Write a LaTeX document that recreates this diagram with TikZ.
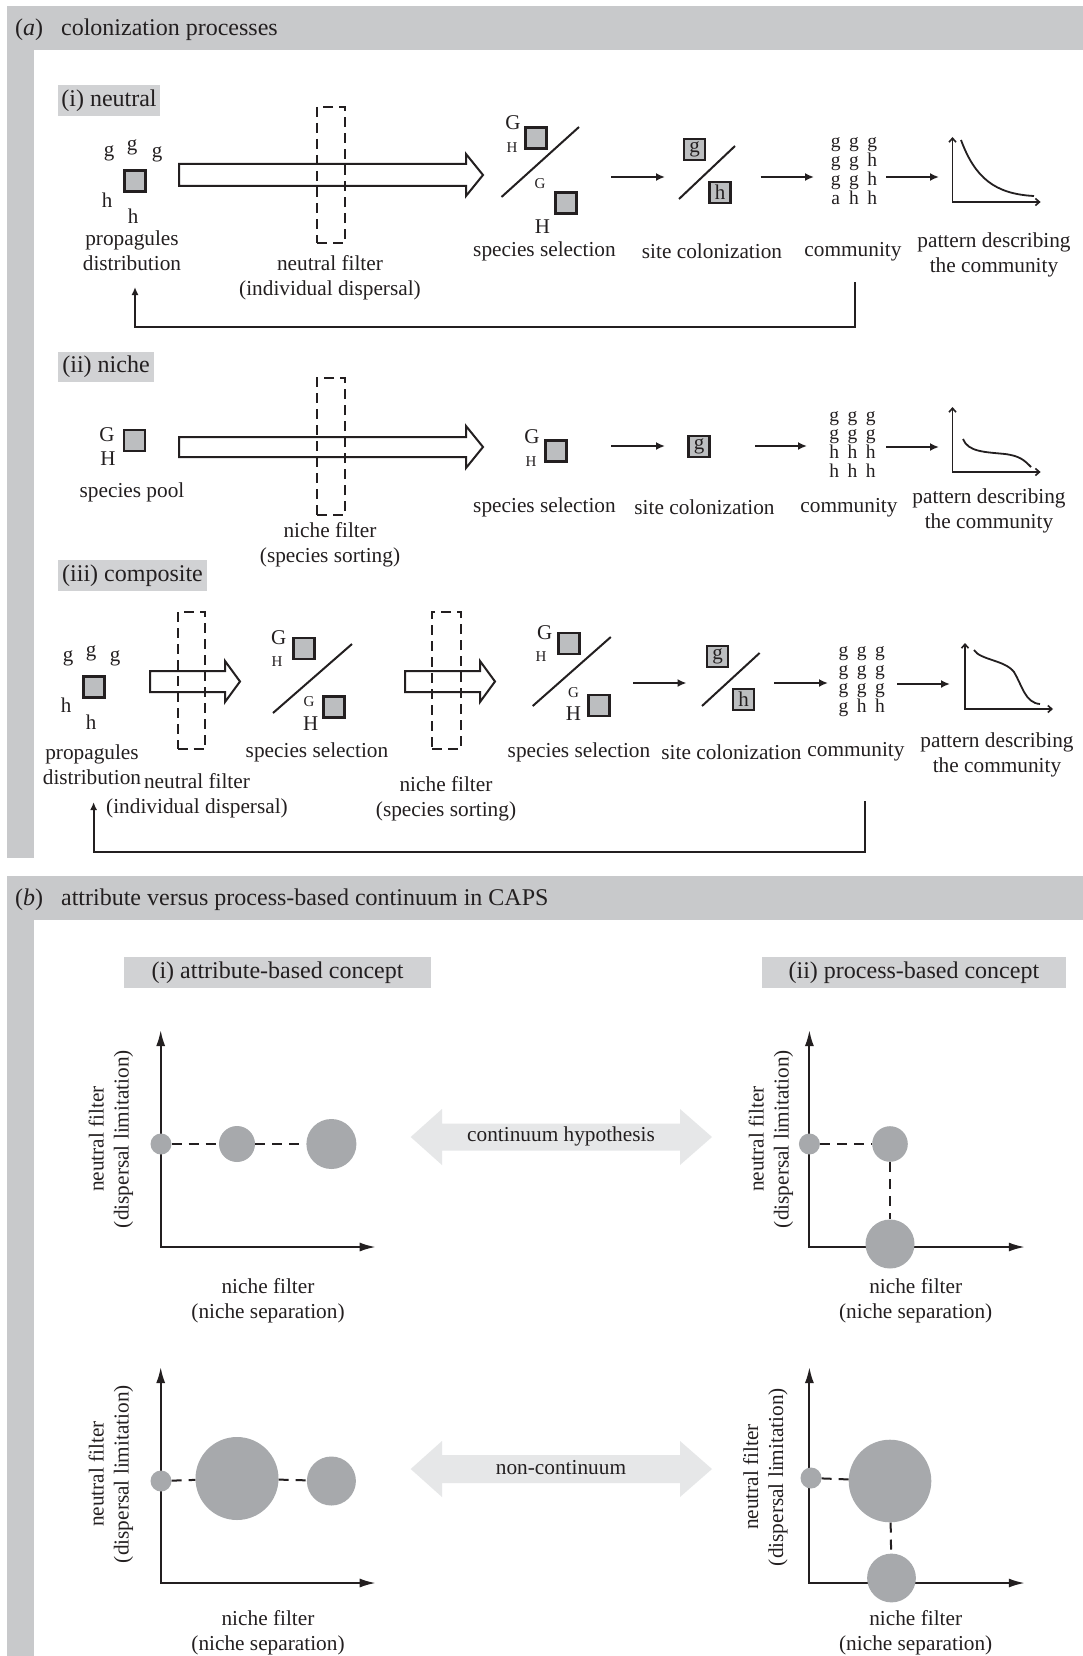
\documentclass[tikz,border=0pt]{standalone}
\usepackage{fontspec}
\setmainfont{Liberation Serif}
\usetikzlibrary{arrows.meta}
\definecolor{hdr}{RGB}{200,201,203}
\definecolor{lbl}{RGB}{209,210,212}
\definecolor{sqfill}{RGB}{188,190,192}
\definecolor{dotc}{RGB}{167,169,172}
\definecolor{arrc}{RGB}{230,231,232}
\definecolor{ink}{RGB}{35,31,32}
\begin{document}
\begin{tikzpicture}[x=1pt,y=-1pt,
  lab/.style={font=\fontsize{21.3}{25}\selectfont, align=center, inner sep=0pt, text=ink},
  hd/.style={font=\fontsize{24}{28}\selectfont, inner sep=0pt, text=ink},
  lbox/.style={hd, fill=lbl},
  big/.style={font=\fontsize{21}{24}\selectfont, inner sep=0pt, text=ink},
  sml/.style={font=\fontsize{15}{18}\selectfont, inner sep=0pt, text=ink},
  sq/.style={draw=ink, fill=sqfill, line width=2.2pt, minimum size=21pt, inner sep=0pt, text=ink},
  comm/.style={font=\fontsize{19.5}{18.3}\selectfont, inner sep=0pt, text=ink},
  conn/.style={draw=ink, line width=2pt, -{Latex[length=9pt,width=8pt]}},
  fb/.style={draw=ink, line width=2pt, -{Latex[length=8pt,width=7pt]}},
  filt/.style={draw=ink, line width=2pt, dash pattern=on 10pt off 6pt, inner sep=0pt},
  hollow/.style={draw=ink, fill=white, line width=2pt, line join=miter},
  slash/.style={draw=ink, line width=2pt},
  mx/.style={draw=ink, line width=1.6pt, {Straight Barb[length=4pt,width=7pt]}-{Straight Barb[length=4pt,width=7pt]}},
  curve/.style={draw=ink, line width=1.8pt},
  bub/.style={circle, fill=dotc, inner sep=0pt},
  dl/.style={draw=ink, line width=2pt, dash pattern=on 10pt off 7pt},
  ax/.style={draw=ink, line width=2pt, line join=miter, {Latex[length=16pt,width=9pt]}-{Latex[length=16pt,width=9pt]}}
]
\useasboundingbox (0,0) rectangle (1083,1656);
\fill[white] (0,0) rectangle (1083,1656);

% ================= panel (a) frame
\fill[hdr] (7,6) rectangle (1083,50);
\fill[hdr] (7,50) rectangle (34,858);
\node[hd, anchor=west] (ha) at (15,30) {(\textit{a})\hspace{18pt}colonization processes};

% ---------- (i) neutral
\node[lbox, minimum width=102pt, minimum height=31pt] (ti) at (109,100.5) {(i) neutral};
\node[big] (g1a) at (109,153) {g};
\node[big] (g1b) at (132,147) {g};
\node[big] (g1c) at (157,154) {g};
\node[sq] (sq1) at (135,181) {};
\node[big] (h1a) at (107,200) {h};
\node[big] (h1b) at (133,216) {h};
\node[lab] (prop1) at (132,250.5) {propagules\\distribution};

\draw[hollow] (179,164) -- (466,164) -- (466,154) -- (483,175) -- (466,196) -- (466,186) -- (179,186) -- cycle;
\node[filt, minimum width=28pt, minimum height=136pt] (fil1) at (331,175) {};
\node[lab] (nf1) at (330,277.5) {neutral filter\\(individual dispersal)};

\node[big] (ss1G) at (513,123) {G};
\node[sml] (ss1H) at (512,148) {H};
\node[sq] (ss1a) at (536,138) {};
\draw[slash] (501.5,197) -- (579,127);
\node[sml] (ss1g) at (540,184) {G};
\node[sq] (ss1b) at (566,203) {};
\node[big] (ss1H2) at (542.5,227) {H};
\node[lab] (ss1l) at (544.5,251) {species selection};

\coordinate (a11s) at (611,177); \coordinate (a11e) at (665,177);
\draw[conn] (a11s) -- (a11e);

\node[sq, big] (sc1g) at (694.5,149.5) {g};
\draw[slash] (679,199) -- (735,146);
\node[sq, big] (sc1h) at (720,192.5) {h};
\node[lab] (sc1l) at (712,251) {site colonization};

\coordinate (a12s) at (760.6,177); \coordinate (a12e) at (814,177);
\draw[conn] (a12s) -- (a12e);

\node[comm] (cm1) at (854,172) {\begin{tabular}{@{}c@{\hspace{8.5pt}}c@{\hspace{8.5pt}}c@{}}g&g&g\\g&g&h\\g&g&h\\a&h&h\end{tabular}};
\node[lab] (cm1l) at (853,252) {community};

\coordinate (a13s) at (886,177); \coordinate (a13e) at (939,177);
\draw[conn] (a13s) -- (a13e);

\draw[mx] (952.5,137) -- (952.5,202) -- (1040.6,202);
\draw[curve] (961,140) .. controls (975,178) and (995,194) .. (1034,196);
\node[lab] (pt1) at (994,254.5) {pattern describing\\the community};

\coordinate (fb1s) at (855,282); \coordinate (fb1c) at (855,327); \coordinate (fb1e) at (135,287);
\draw[fb] (fb1s) -- (fb1c) -| (fb1e);

% ---------- (ii) niche
\node[lbox, minimum width=96pt, minimum height=30pt] (tii) at (106,367) {(ii) niche};
\node[big] (sp2G) at (107,435) {G};
\node[big] (sp2H) at (108,459) {H};
\node[sq] (sq2) at (134.5,440.5) {};
\node[lab] (sp2l) at (132,492) {species pool};

\draw[hollow] (179,437) -- (466,437) -- (466,426) -- (483,447) -- (466,468) -- (466,457) -- (179,457) -- cycle;
\node[filt, minimum width=28pt, minimum height=137pt] (fil2) at (331,446.5) {};
\node[lab] (nf2) at (330,545) {niche filter\\(species sorting)};

\node[big] (ss2G) at (532,437) {G};
\node[sml] (ss2H) at (531,462) {H};
\node[sq] (ss2a) at (556,451) {};
\node[lab] (ss2l) at (544.5,507) {species selection};

\coordinate (a21s) at (611,446); \coordinate (a21e) at (665,446);
\draw[conn] (a21s) -- (a21e);

\node[sq, big] (sc2g) at (699,446.5) {g};
\node[lab] (sc2l) at (704.5,507) {site colonization};

\coordinate (a22s) at (755,446); \coordinate (a22e) at (807,446);
\draw[conn] (a22s) -- (a22e);

\node[comm] (cm2) at (852.5,446) {\begin{tabular}{@{}c@{\hspace{8.5pt}}c@{\hspace{8.5pt}}c@{}}g&g&g\\g&g&g\\h&h&h\\h&h&h\end{tabular}};
\node[lab] (cm2l) at (849,508) {community};

\coordinate (a23s) at (886,447); \coordinate (a23e) at (939,447);
\draw[conn] (a23s) -- (a23e);

\draw[mx] (952.5,407) -- (952.5,472) -- (1040.6,472);
\draw[curve] (963,439) .. controls (968,452) and (985,452) .. (1005,454) .. controls (1020,456) and (1024,460) .. (1031,467);
\node[lab] (pt2) at (989,510.5) {pattern describing\\the community};

% ---------- (iii) composite
\node[lbox, minimum width=149pt, minimum height=31pt] (tiii) at (132.5,575.5) {(iii) composite};
\node[big] (g3a) at (68,658) {g};
\node[big] (g3b) at (91,653) {g};
\node[big] (g3c) at (115,658) {g};
\node[sq] (sq3) at (94,687) {};
\node[big] (h3a) at (66,705) {h};
\node[big] (h3b) at (91,722) {h};
\node[lab] (prop3) at (92,764.5) {propagules\\distribution};

\draw[hollow] (150,671) -- (225,671) -- (225,661) -- (240,681.5) -- (225,702) -- (225,692) -- (150,692) -- cycle;
\node[filt, minimum width=27.5pt, minimum height=137pt] (fil3a) at (191.25,680.5) {};
\node[lab] (nf3a) at (197,796) {neutral filter\\(individual dispersal)};

\node[big] (ss3G) at (278.6,638) {G};
\node[sml] (ss3H) at (277,662) {H};
\node[sq] (ss3a) at (304,648.5) {};
\draw[slash] (273,713) -- (352,644);
\node[sml] (ss3g) at (309,702) {G};
\node[sq] (ss3b) at (334,707) {};
\node[big] (ss3H2) at (310.7,724) {H};
\node[lab] (ss3l) at (317,752) {species selection};

\draw[hollow] (405,671) -- (480,671) -- (480,661) -- (495,681.5) -- (480,702) -- (480,692) -- (405,692) -- cycle;
\node[filt, minimum width=29pt, minimum height=137pt] (fil3b) at (446.5,680.5) {};
\node[lab] (nf3b) at (446,799) {niche filter\\(species sorting)};

\node[big] (ss4G) at (544.6,633) {G};
\node[sml] (ss4H) at (541,657) {H};
\node[sq] (ss4a) at (569,643.5) {};
\draw[slash] (532.7,706) -- (610.8,637);
\node[sml] (ss4g) at (573.5,693) {G};
\node[sq] (ss4b) at (599,705.5) {};
\node[big] (ss4H2) at (573.5,714) {H};
\node[lab] (ss4l) at (579,752) {species selection};

\coordinate (a31s) at (633,683); \coordinate (a31e) at (686.5,683);
\draw[conn] (a31s) -- (a31e);

\node[sq, big] (sc3g) at (717.5,656.5) {g};
\draw[slash] (702,706) -- (759.6,653);
\node[sq, big] (sc3h) at (743.5,699.5) {h};
\node[lab] (sc3l) at (731.5,752) {site colonization};

\coordinate (a32s) at (774,683); \coordinate (a32e) at (828,683);
\draw[conn] (a32s) -- (a32e);

\node[comm] (cm3) at (861.7,681) {\begin{tabular}{@{}c@{\hspace{8.5pt}}c@{\hspace{8.5pt}}c@{}}g&g&g\\g&g&g\\g&g&g\\g&h&h\end{tabular}};
\node[lab] (cm3l) at (856,752) {community};

\coordinate (a33s) at (897,684); \coordinate (a33e) at (950,684);
\draw[conn] (a33s) -- (a33e);

\draw[mx] (965,643) -- (965,709) -- (1053,709);
\draw[curve] (974,650) .. controls (980,660) and (1005,660) .. (1014,672) .. controls (1022,685) and (1025,703) .. (1040,704);
\node[lab] (pt3) at (997,754.5) {pattern describing\\the community};

\coordinate (fb3s) at (865,801); \coordinate (fb3c) at (865,852); \coordinate (fb3e) at (93.6,802);
\draw[fb] (fb3s) -- (fb3c) -| (fb3e);

% ================= panel (b)
\fill[hdr] (7,876) rectangle (1083,920);
\fill[hdr] (7,920) rectangle (34,1656);
\node[hd, anchor=west] (hb) at (15,900) {(\textit{b})\hspace{18pt}attribute versus process-based continuum in CAPS};

\node[lbox, minimum width=307pt, minimum height=31pt] (tbi) at (277.5,972.5) {(i) attribute-based concept};
\node[lbox, minimum width=304pt, minimum height=31pt] (tbii) at (913.9,972.5) {(ii) process-based concept};

% plot 1
\draw[ax] (160.7,1030) -- (160.7,1247) -- (375.7,1247);
\node[bub, minimum size=21pt] (p1a) at (161,1144) {};
\node[bub, minimum size=36pt] (p1b) at (237,1144) {};
\node[bub, minimum size=50pt] (p1c) at (331.4,1144) {};
\draw[dl] (p1a) -- (p1b);
\draw[dl] (p1b) -- (p1c);
\node[lab, rotate=90] (y1) at (111,1139) {neutral filter\\(dispersal limitation)};
\node[lab] (x1) at (268,1301) {niche filter\\(niche separation)};

% plot 2
\draw[ax] (809.4,1030) -- (809.4,1247) -- (1024.8,1247);
\node[bub, minimum size=21pt] (p2a) at (809.4,1144) {};
\node[bub, minimum size=35.6pt] (p2b) at (890,1144) {};
\node[bub, minimum size=49pt] (p2c) at (890,1244) {};
\draw[dl] (p2a) -- (p2b);
\draw[dl] (p2b) -- (p2c);
\node[lab, rotate=90] (y2) at (771,1139) {neutral filter\\(dispersal limitation)};
\node[lab] (x2) at (915.7,1301) {niche filter\\(niche separation)};

% continuum arrow
\fill[arrc] (410.7,1137) -- (442,1109) -- (442,1123.5) -- (680,1123.5) -- (680,1109) -- (712,1137) -- (680,1165) -- (680,1150.5) -- (442,1150.5) -- (442,1165) -- cycle;
\node[lab] (cont) at (561,1136) {continuum hypothesis};

% plot 3
\draw[ax] (160.7,1367) -- (160.7,1583) -- (375.7,1583);
\node[bub, minimum size=21pt] (p3a) at (161,1481) {};
\node[bub, minimum size=83pt] (p3b) at (237,1478.5) {};
\node[bub, minimum size=49pt] (p3c) at (331.4,1481) {};
\draw[dl] (p3a) -- (p3b);
\draw[dl] (p3b) -- (p3c);
\node[lab, rotate=90] (y3) at (111,1474) {neutral filter\\(dispersal limitation)};
\node[lab] (x3) at (268,1632.5) {niche filter\\(niche separation)};

% plot 4
\draw[ax] (809.4,1367) -- (809.4,1583) -- (1024.8,1583);
\node[bub, minimum size=21pt] (p4a) at (811,1478) {};
\node[bub, minimum size=82.6pt] (p4b) at (890,1481) {};
\node[bub, minimum size=48.8pt] (p4c) at (891.5,1578) {};
\draw[dl] (p4a) -- (p4b);
\draw[dl] (p4b) -- (p4c);
\node[lab, rotate=90] (y4) at (765.5,1477) {neutral filter\\(dispersal limitation)};
\node[lab] (x4) at (915.7,1632.5) {niche filter\\(niche separation)};

% non-continuum arrow
\fill[arrc] (410.7,1469) -- (442,1441) -- (442,1455) -- (680,1455) -- (680,1441) -- (712,1469) -- (680,1497) -- (680,1483) -- (442,1483) -- (442,1497) -- cycle;
\node[lab] (ncont) at (561,1468) {non-continuum};
\end{tikzpicture}
\end{document}
